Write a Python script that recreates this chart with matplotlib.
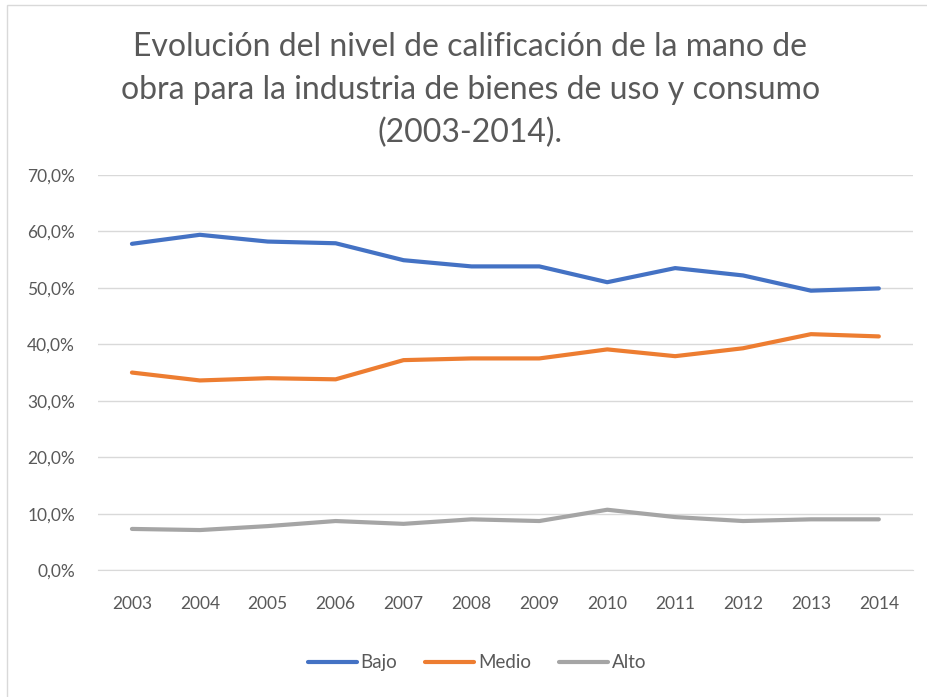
import matplotlib.pyplot as plt
from matplotlib.patches import Rectangle
from matplotlib.ticker import FuncFormatter

years = ['2003', '2004', '2005', '2006', '2007', '2008',
         '2009', '2010', '2011', '2012', '2013', '2014']
bajo = [57.8, 59.4, 58.2, 57.9, 54.9, 53.8, 53.8, 51.0, 53.5, 52.2, 49.5, 49.9]
medio = [35.0, 33.6, 34.0, 33.8, 37.2, 37.5, 37.5, 39.1, 37.9, 39.3, 41.8, 41.4]
alto = [7.3, 7.1, 7.8, 8.7, 8.2, 9.0, 8.7, 10.7, 9.4, 8.7, 9.0, 9.0]

labels = ['Bajo', 'Medio', 'Alto']
colors = ['#4472C4', '#ED7D31', '#A5A5A5']
text_col = '#595959'

plt.rcParams['font.family'] = ['Lato', 'DejaVu Sans']

fig = plt.figure(figsize=(9.28, 6.97), dpi=100)
# light chart-area border (left and top visible, rest cropped)
fig.patches.append(Rectangle((0.008, -0.02), 1.1, 1.013, transform=fig.transFigure,
                             fill=False, edgecolor='#D9D9D9', linewidth=1))
ax = fig.add_axes([0.1056, 0.182, 0.878, 0.567])

x = range(len(years))
for vals, lab, col in zip([bajo, medio, alto], labels, colors):
    ax.plot(x, vals, color=col, linewidth=3, label=lab,
            solid_joinstyle='round', solid_capstyle='round')

ax.set_xlim(-0.5, len(years) - 0.5)
ax.set_ylim(0, 70)
ax.set_yticks(range(0, 71, 10))
ax.yaxis.set_major_formatter(FuncFormatter(lambda v, p: f'{v:.1f}%'.replace('.', ',')))
ax.set_xticks(list(x))
ax.set_xticklabels(years)
ax.grid(axis='y', color='#D9D9D9', linewidth=1)
ax.set_axisbelow(True)
for s in ['top', 'right', 'left']:
    ax.spines[s].set_visible(False)
ax.spines['bottom'].set_color('#D9D9D9')
ax.tick_params(length=0, colors=text_col, labelsize=12.5)
ax.tick_params(axis='y', pad=16.5)
ax.tick_params(axis='x', pad=18.5)

title = ['Evolución del nivel de calificación de la mano de',
         'obra para la industria de bienes de uso y consumo',
         '(2003-2014).']
for i, line in enumerate(title):
    fig.text(0.507, 0.932 - i * 0.0615, line, ha='center', va='center',
             fontsize=23, color=text_col)

fig.legend(loc='center', bbox_to_anchor=(0.514, 0.049), ncol=3, frameon=False,
           fontsize=13.5, labelcolor=text_col, handlelength=2.6,
           handletextpad=0.2, columnspacing=1.5)

fig.savefig('out.png', dpi=100)
